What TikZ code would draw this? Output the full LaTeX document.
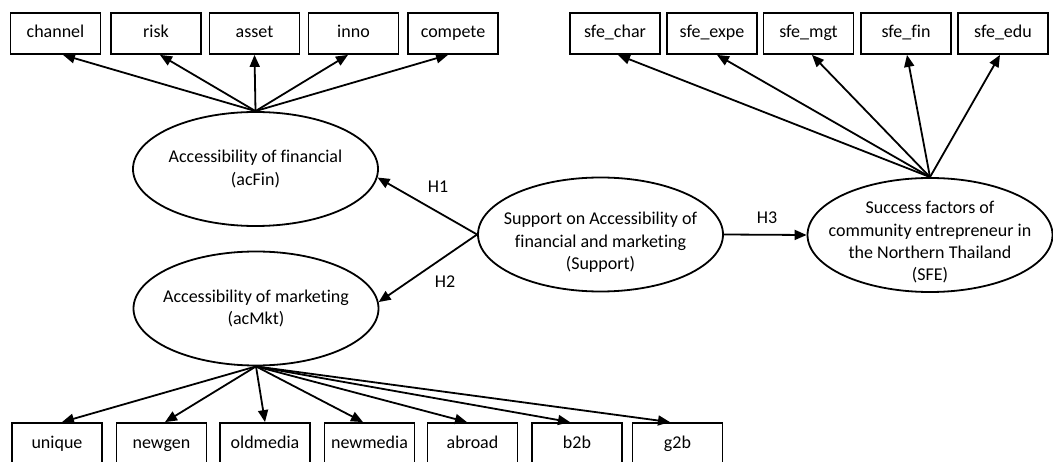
\documentclass[tikz,border=0pt]{standalone}
\usepackage{fontspec}
\setmainfont{Carlito}[Ligatures=NoCommon]
\usetikzlibrary{shapes.geometric,arrows.meta}

\begin{document}
\begin{tikzpicture}[x=1pt,y=-1pt,
  lbl/.style={font=\fontsize{18}{22.3}\selectfont},
  obs/.style={draw, line width=1.8pt, minimum width=90pt, minimum height=41pt,
              inner sep=0pt, text height=13pt, text depth=4pt, lbl},
  lat/.style={draw, ellipse, line width=1.8pt, minimum width=245pt,
              minimum height=114pt, inner sep=0pt},
  txt/.style={lbl, align=center, inner sep=0pt},
  link/.style={line width=1.8pt, -{Triangle[length=12pt,width=10pt]}}
]
\useasboundingbox (0,0) rectangle (1053,462);
\clip (0,0) rectangle (1053,462);

% latent constructs
\node[lat] (acFin)   at (255.5,169)   {};
\node[lat] (acMkt)   at (256,308.5)   {};
\node[lat] (support) at (600.5,234.5) {};
\node[lat] (sfe)     at (930,235)     {};

\node[txt] (acFinTxt)   at (acFin)   {Accessibility of financial\\(acFin)};
\node[txt] (acMktTxt)   at (acMkt)   {Accessibility of marketing\\(acMkt)};
\node[txt] (supportTxt) at ([yshift=-8pt]support)
  {Support on Accessibility of\\financial and marketing\\(Support)};
\node[txt] (sfeTxt) at ([yshift=-7.5pt]sfe)
  {Success factors of\\community entrepreneur in\\the Northern Thailand\\(SFE)};

% indicators of acFin
\node[obs] (channel) at (55.5,33.5)  {channel};
\node[obs] (risk)    at (156,33.5)   {risk};
\node[obs] (asset)   at (254.5,33.5) {asset};
\node[obs] (inno)    at (353.5,33.5) {inno};
\node[obs] (compete) at (453,33.5)   {compete};

% indicators of SFE
\node[obs] (sfechar) at (615,33.5)   {sfe\_char};
\node[obs] (sfeexpe) at (712,33.5)   {sfe\_expe};
\node[obs] (sfemgt)  at (808.5,33.5) {sfe\_mgt};
\node[obs] (sfefin)  at (906,33.5)   {sfe\_fin};
\node[obs] (sfeedu)  at (1003,33.5)  {sfe\_edu};

% indicators of acMkt
\node[obs] (unique)   at (57,443.5)    {unique};
\node[obs] (newgen)   at (161.5,443.5) {newgen};
\node[obs] (oldmedia) at (265,443.5)   {oldmedia};
\node[obs] (newmedia) at (369.5,443.5) {newmedia};
\node[obs] (abroad)   at (472.5,443.5) {abroad};
\node[obs] (btob)     at (577,443.5)   {b2b};
\node[obs] (gtob)     at (677.5,443.5) {g2b};

% loadings
\draw[link] (acFin.north) -- ([xshift=7.5pt]channel.south);
\draw[link] (acFin.north) -- ([xshift=4pt]risk.south);
\draw[link] (acFin.north) -- (asset.south);
\draw[link] (acFin.north) -- ([xshift=-5.5pt]inno.south);
\draw[link] (acFin.north) -- ([xshift=-5pt]compete.south);

\draw[link] (sfe.north) -- ([xshift=3pt]sfechar.south);
\draw[link] (sfe.north) -- ([xshift=5pt]sfeexpe.south);
\draw[link] (sfe.north) -- ([xshift=3.5pt]sfemgt.south);
\draw[link] (sfe.north) -- ([xshift=1pt]sfefin.south);
\draw[link] (sfe.north) -- ([xshift=-3pt]sfeedu.south);

\draw[link] (acMkt.south) -- ([xshift=5pt]unique.north);
\draw[link] (acMkt.south) -- ([xshift=3.5pt]newgen.north);
\draw[link] (acMkt.south) -- (oldmedia.north);
\draw[link] (acMkt.south) -- ([xshift=-6.5pt]newmedia.north);
\draw[link] (acMkt.south) -- ([xshift=-5.5pt]abroad.north);
\draw[link] (acMkt.south) -- ([xshift=-7pt]btob.north);
\draw[link] (acMkt.south) -- ([xshift=-7.5pt]gtob.north);

% structural paths
\draw[link] (support.west) -- (acFin.-4);
\draw[link] (support.west) -- (acMkt.3);
\draw[link] (support.east) -- (sfe.west);

\node[txt] (h1) at (438,187) {H1};
\node[txt] (h2) at (445,282) {H2};
\node[txt] (h3) at (767,218) {H3};
\end{tikzpicture}
\end{document}
